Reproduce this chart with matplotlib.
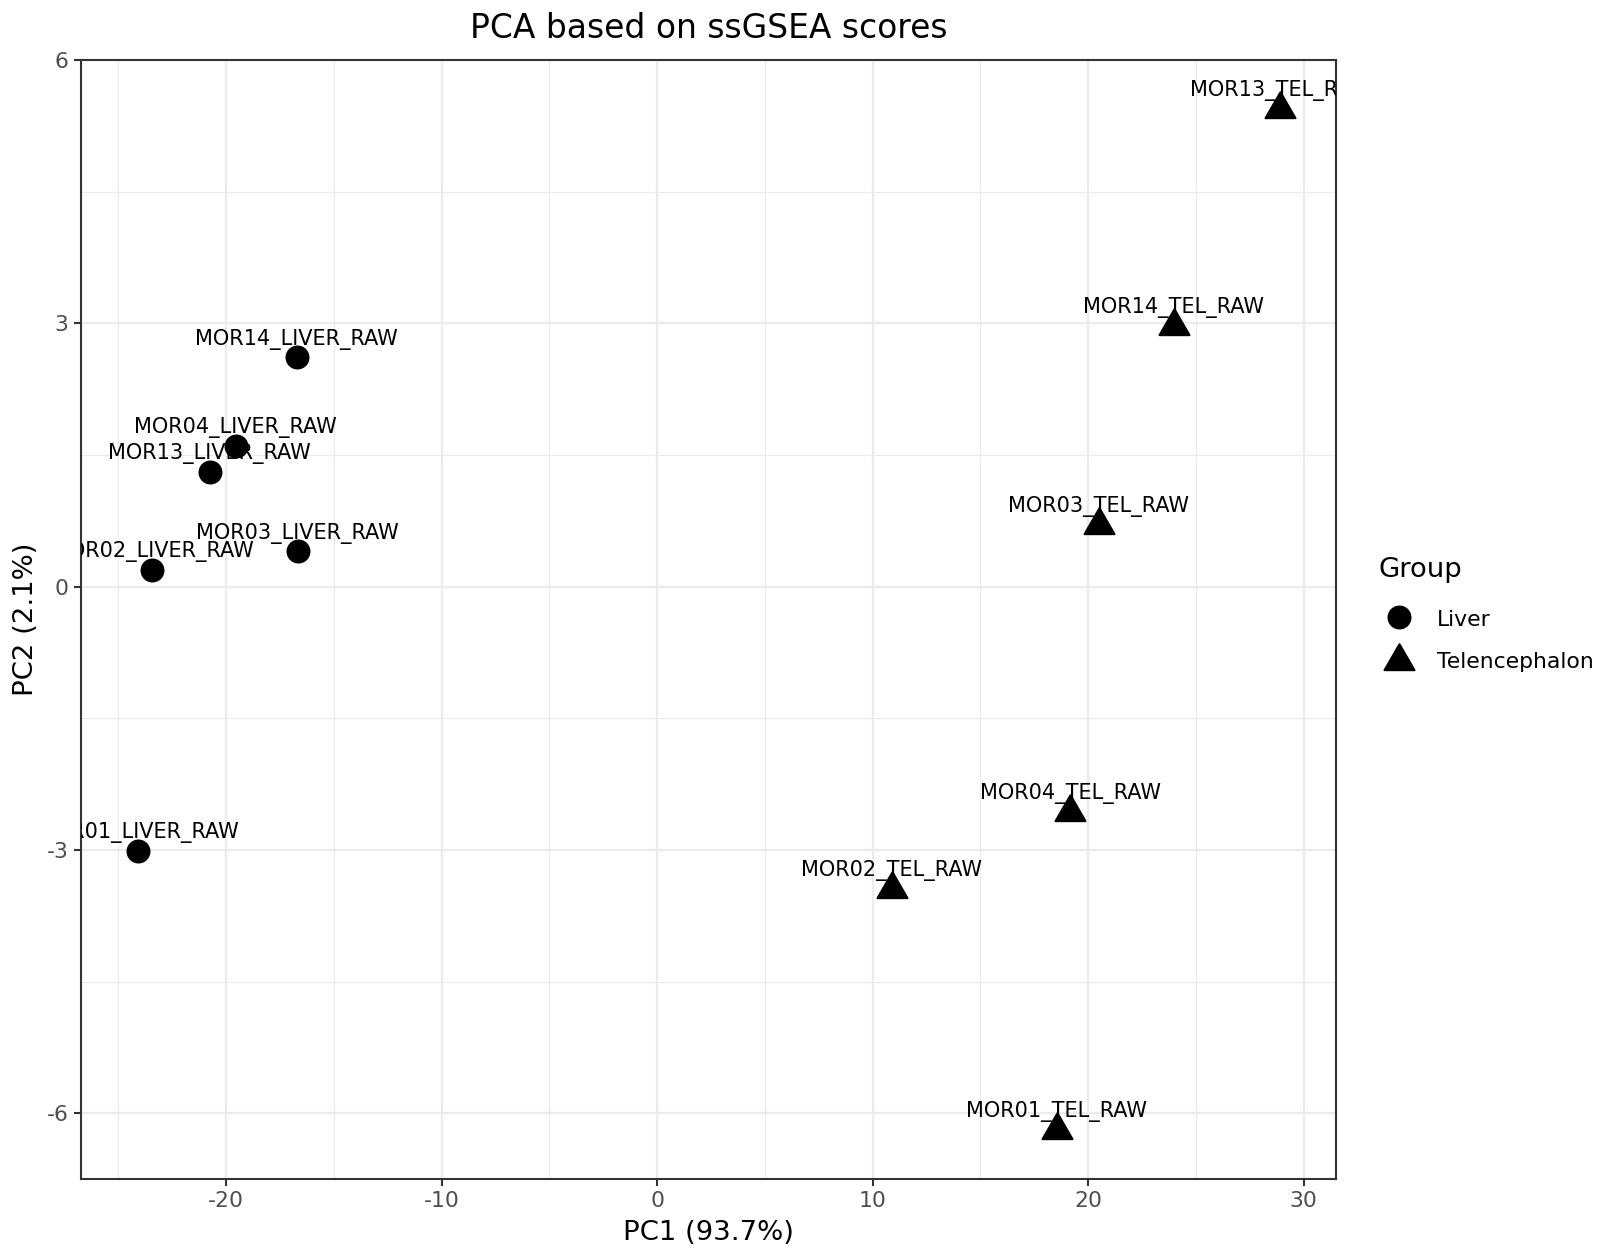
import matplotlib.pyplot as plt
import matplotlib.transforms as mtransforms
from matplotlib.lines import Line2D
from matplotlib.path import Path

plt.rcParams['axes.unicode_minus'] = False

# PCA coordinates
liver_names = ['MOR01_LIVER_RAW', 'MOR02_LIVER_RAW', 'MOR03_LIVER_RAW',
               'MOR04_LIVER_RAW', 'MOR13_LIVER_RAW', 'MOR14_LIVER_RAW']
liver_pc1 = [-24.1, -23.44, -16.68, -19.56, -20.76, -16.73]
liver_pc2 = [-3.01, 0.19, 0.40, 1.60, 1.31, 2.61]

tel_names = ['MOR01_TEL_RAW', 'MOR02_TEL_RAW', 'MOR03_TEL_RAW',
             'MOR04_TEL_RAW', 'MOR13_TEL_RAW', 'MOR14_TEL_RAW']
tel_pc1 = [18.55, 10.89, 20.48, 19.16, 28.91, 23.96]
tel_pc2 = [-6.19, -3.45, 0.70, -2.57, 5.44, 2.97]

xticks = [-20, -10, 0, 10, 20, 30]
yticks = [-6, -3, 0, 3, 6]

W, H = 1620, 1260
fig = plt.figure(figsize=(W / 150, H / 150), dpi=150)
ax = fig.add_axes([0.0498, 0.0643, 0.7749, 0.8881])

# R-style triangle (pch 17): centred on its centroid
tri = Path([(0, 1), (-0.866, -0.5), (0.866, -0.5), (0, 1)],
           [Path.MOVETO, Path.LINETO, Path.LINETO, Path.CLOSEPOLY])

# theme_bw look
ax.set_facecolor('white')
for s in ax.spines.values():
    s.set_color('#333333')
    s.set_linewidth(1.0)
ax.set_xticks(xticks)
ax.set_yticks(yticks)
ax.set_xticks([-25, -15, -5, 5, 15, 25], minor=True)
ax.set_yticks([-4.5, -1.5, 1.5, 4.5], minor=True)
ax.grid(True, which='major', color='#EBEBEB', linewidth=1.07)
ax.grid(True, which='minor', color='#EBEBEB', linewidth=0.53)
ax.set_axisbelow(True)
ax.tick_params(which='major', length=3.3, width=1.0, color='#333333',
               labelsize=10.5, labelcolor='#4D4D4D', pad=2.5)
ax.tick_params(which='minor', length=0)

ax.set_xlim(-26.75, 31.5)
ax.set_ylim(-6.75, 6.0)

ax.plot(liver_pc1, liver_pc2, 'o', color='black', markersize=10.5, linestyle='none')
ax.plot(tel_pc1, tel_pc2, marker=tri, color='black', markersize=16.6, linestyle='none')

off = ax.transData + mtransforms.ScaledTranslation(0, 6.2 / 72, fig.dpi_scale_trans)
for name, x, y in zip(liver_names + tel_names, liver_pc1 + tel_pc1, liver_pc2 + tel_pc2):
    ax.text(x, y, name, transform=off, ha='center', va='baseline',
            fontsize=10, color='black', clip_on=True)

ax.set_xlabel('PC1 (93.7%)', fontsize=13.2, va='center')
ax.xaxis.set_label_coords(0.5, (1179 - 1232.6) / 1119)
ax.set_ylabel('PC2 (2.1%)', fontsize=13.2, va='center', ha='center')
ax.yaxis.set_label_coords((25.8 - 80.6) / 1255.4, 0.5)

fig.text((80.6 + 1336) / 2 / W, 1 - 38.5 / H, 'PCA based on ssGSEA scores',
         fontsize=15.8, ha='center', va='baseline')

# legend drawn by hand to sit like ggplot's
fig.text(1378 / W, 1 - 577 / H, 'Group', fontsize=13.2, ha='left', va='baseline')
fig.add_artist(Line2D([1399 / W], [1 - 617 / H], marker='o', color='black',
                      markersize=10.5, linestyle='none', transform=fig.transFigure))
fig.add_artist(Line2D([1399 / W], [1 - 660.5 / H], marker=tri, color='black',
                      markersize=16.6, linestyle='none', transform=fig.transFigure))
fig.text(1437 / W, 1 - 626 / H, 'Liver', fontsize=10.5, ha='left', va='baseline')
fig.text(1437 / W, 1 - 668 / H, 'Telencephalon', fontsize=10.5, ha='left', va='baseline')

plt.savefig('out.png', dpi=150)
